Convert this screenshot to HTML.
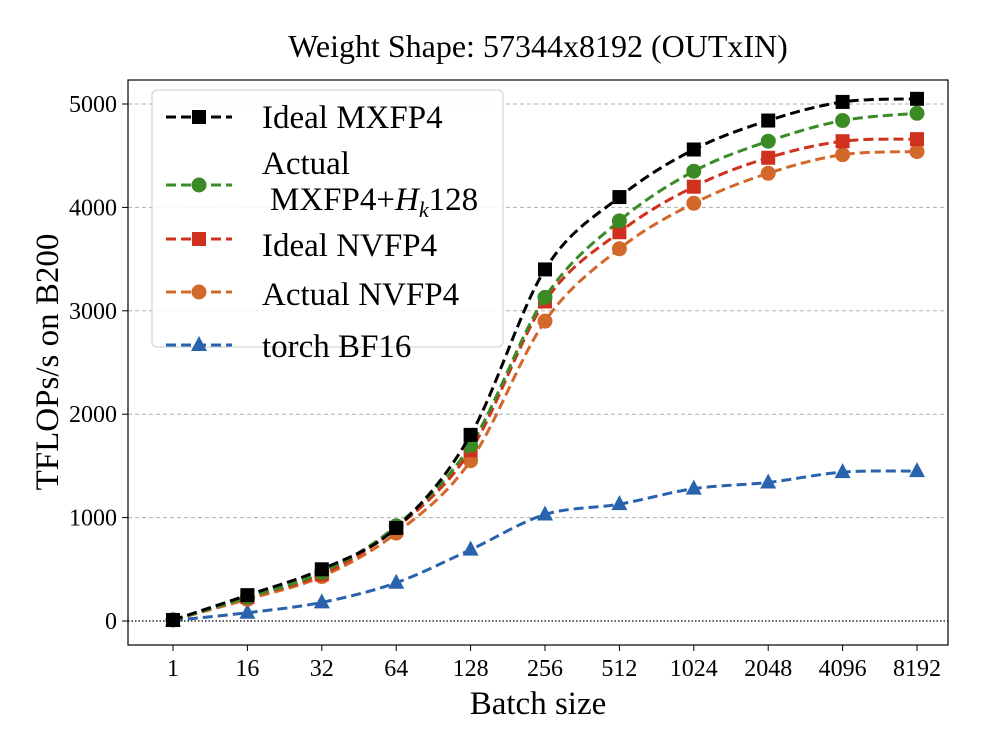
<!DOCTYPE html>
<html><head><meta charset="utf-8"><style>
body{margin:0;background:#fff;}
svg text{font-family:"Liberation Serif",serif;}
</style></head><body>
<svg id="chart" width="984" height="736" viewBox="0 0 984 736" xmlns="http://www.w3.org/2000/svg">
<rect width="984" height="736" fill="#fff"/>
<g id="grid"></g>
<g id="series"></g>
<rect x="128" y="80" width="820" height="565" fill="none" stroke="#000" stroke-width="1.2"/>
<g id="axes"></g>
<text x="538" y="57" font-size="32" text-anchor="middle">Weight Shape: 57344x8192 (OUTxIN)</text>
<text x="538" y="714" font-size="33" text-anchor="middle">Batch size</text>
<text transform="translate(58,362) rotate(-90)" font-size="33" text-anchor="middle">TFLOPs/s on B200</text>
<g id="legend"></g>
</svg>
<script>
const categories=["1","16","32","64","128","256","512","1024","2048","4096","8192"];
const yTicks=[0,1000,2000,3000,4000,5000];
const idealMX=[10,250,500,900,1800,3400,4100,4560,4840,5020,5050];
const actualMX=[10,230,470,920,1700,3130,3870,4350,4640,4840,4910];
const idealNV=[10,230,450,900,1650,3090,3760,4200,4480,4640,4660];
const actualNV=[10,210,430,850,1550,2900,3600,4040,4330,4510,4540];
const bf16=[5,80,180,370,690,1030,1130,1280,1340,1440,1450];
const seriesNames=["Ideal MXFP4","Actual MXFP4+Hk128","Ideal NVFP4","Actual NVFP4","torch BF16"];

const NS="http://www.w3.org/2000/svg";
const xS=i=>173+i*74.4;
const yS=v=>621-v*0.1034;
function mk(tag,attrs,parent){const e=document.createElementNS(NS,tag);for(const k in attrs)e.setAttribute(k,attrs[k]);parent.appendChild(e);return e;}
const grid=document.getElementById('grid'),axes=document.getElementById('axes'),ser=document.getElementById('series'),leg=document.getElementById('legend');
yTicks.forEach(t=>{
  const y=yS(t);
  if(t>0){const g=mk('line',{x1:128,x2:948,y1:y,y2:y,stroke:'#b0b0b0','stroke-dasharray':'4,3','stroke-width':1},grid);
  
  }
  mk('line',{x1:122,x2:128,y1:y,y2:y,stroke:'#000'},axes);
  const tx=mk('text',{x:117,y:y+8,'font-size':24,'text-anchor':'end'},axes);tx.textContent=t;
  
  
});
const zl=mk('line',{x1:128,x2:948,y1:yS(0),y2:yS(0),stroke:'#000','stroke-dasharray':'1.5,2','stroke-width':1.3},grid);


categories.forEach((c,i)=>{
  const x=xS(i);
  mk('line',{x1:x,x2:x,y1:645,y2:651,stroke:'#000'},axes);
  const tx=mk('text',{x:x,y:676,'font-size':24,'text-anchor':'middle'},axes);tx.textContent=c;
  
  
});
function smooth(pts){
  let d=`M${pts[0][0]},${pts[0][1]}`;
  for(let i=0;i<pts.length-1;i++){
    const p0=pts[Math.max(0,i-1)],p1=pts[i],p2=pts[i+1],p3=pts[Math.min(pts.length-1,i+2)];
    const c1=[p1[0]+(p2[0]-p0[0])/6,p1[1]+(p2[1]-p0[1])/6];
    const c2=[p2[0]-(p3[0]-p1[0])/6,p2[1]-(p3[1]-p1[1])/6];
    d+=` C${c1[0]},${c1[1]} ${c2[0]},${c2[1]} ${p2[0]},${p2[1]}`;
  }
  return d;
}
function marker(type,x,y,color,parent){
  let m;
  if(type==='s')m=mk('rect',{x:x-7,y:y-7,width:14,height:14,fill:color},parent);
  else if(type==='o')m=mk('circle',{cx:x,cy:y,r:7.5,fill:color},parent);
  else m=mk('polygon',{points:`${x},${y-9} ${x-8},${y+6} ${x+8},${y+6}`,fill:color},parent);
  return m;
}
const defs=[[idealMX,'#000000','s'],[actualMX,'#3a8a26','o'],[idealNV,'#d0311f','s'],[actualNV,'#d2692a','o'],[bf16,'#2a63ad','^']];
const keys=['ideal-mxfp4','actual-mxfp4','ideal-nvfp4','actual-nvfp4','torch-bf16'];
for(let s=defs.length-1;s>=0;s--){
  const [vals,col,mt]=defs[s];
  const g=mk('g',{},ser);
  
  
  const pts=vals.map((v,i)=>[xS(i),yS(v)]);
  mk('path',{d:smooth(pts),fill:'none',stroke:col,'stroke-width':3,'stroke-dasharray':'10,5'},g);
  pts.forEach(p=>{const m=marker(mt,p[0],p[1],col,g);
    
    });
}
// legend
mk('rect',{x:152,y:90,width:351,height:257,rx:5,fill:'#fff','fill-opacity':0.85,stroke:'#ccc'},leg);
const markerY=[117,185,239,292,345];
const textY=[128,0,256,305,357];
defs.forEach((d,i)=>{
  const y=markerY[i];
  const g=mk('g',{},leg);
  
  
  mk('line',{x1:166,x2:232,y1:y,y2:y,stroke:d[1],'stroke-width':3,'stroke-dasharray':'10,5'},g);
  marker(d[2],199,y,d[1],g);
  if(i===1){
    const t1=mk('text',{x:262,y:174,'font-size':33},g);t1.textContent='Actual';
    const t2=mk('text',{x:270,y:210,'font-size':33},g);
    t2.innerHTML='MXFP4+<tspan font-style="italic">H</tspan><tspan font-style="italic" font-size="22" dy="7">k</tspan><tspan dy="-7">128</tspan>';
  }else{
    const t=mk('text',{x:262,y:textY[i],'font-size':33},g);t.textContent=seriesNames[i];
  }
});
</script>
</body></html>
